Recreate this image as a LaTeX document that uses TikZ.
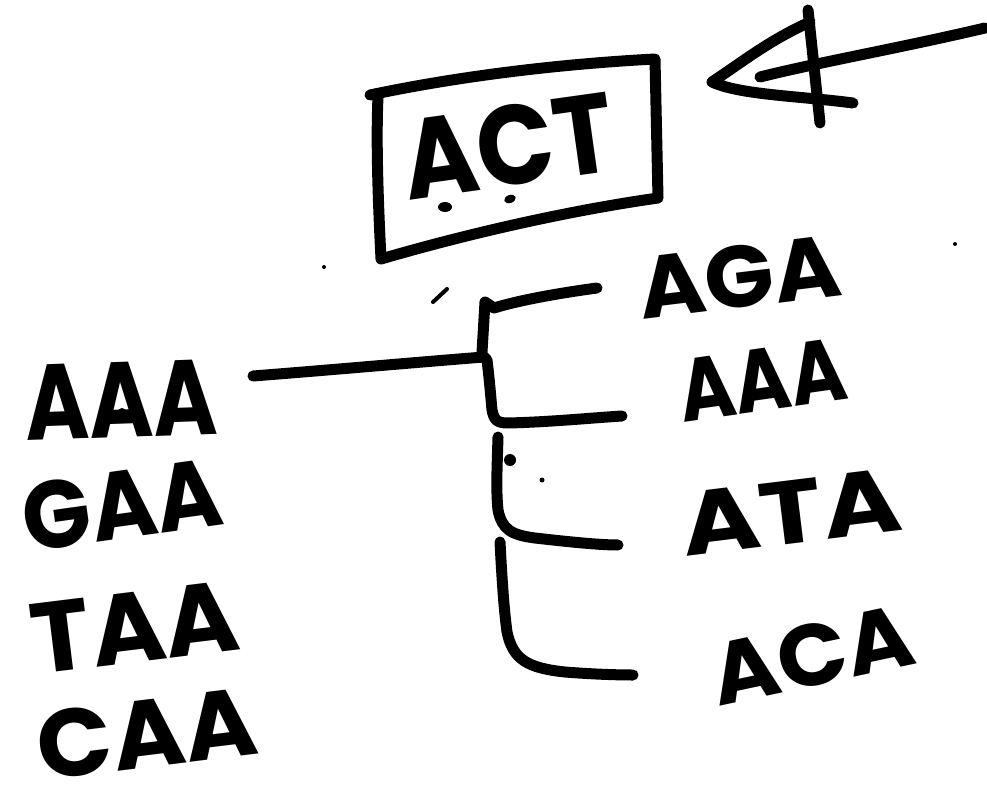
\documentclass[tikz,border=0pt]{standalone}
\usepackage{fontspec}
\newfontfamily\handfont{Poppins}
\newcommand{\hw}[3]{\resizebox{#1pt}{#2pt}{\handfont\bfseries #3}}
\tikzset{
  ink/.style={line width=11pt, line cap=round, line join=round},
  word/.style={inner sep=0pt, anchor=center},
  blob/.style={fill=black}
}
\begin{document}
\begin{tikzpicture}[x=1pt,y=-1pt]
\useasboundingbox (0,0) rectangle (987,786);
\fill[white] (0,0) rectangle (987,786);

% box around ACT
\draw[ink] (370,95) .. controls (460,76) and (560,64) .. (655,59)
  -- (658,198) .. controls (560,212) and (460,236) .. (381,259)
  .. controls (378,200) and (376,140) .. (378,97);
\node[word, rotate=8] (act) at (508,146) {\hw{212}{80}{ACT}};
\fill[blob] (445,207) ellipse (7pt and 5pt);
\fill[blob, rotate around={20:(510,199)}] (510,199) ellipse (6pt and 4pt);

% arrow
\coordinate (arrowstart) at (985,28);
\coordinate (arrowend) at (760,77);
\draw[ink] (arrowstart) .. controls (900,48) and (820,62) .. (arrowend);
\draw[ink] (810,22) .. controls (770,40) and (745,60) .. (712,82)
  .. controls (740,95) and (800,96) .. (853,103);
\draw[ink] (808,10) -- (820,123);

% left words
\node[word, rotate=2] (l1) at (121,400) {\hw{192}{75}{AAA}};
\node[word, rotate=8] (l2) at (122,505) {\hw{200}{68}{GAA}};
\node[word, rotate=7] (l3) at (135,627) {\hw{208}{70}{TAA}};
\node[word, rotate=7] (l4) at (147,734) {\hw{220}{68}{CAA}};
\fill[blob] (122,412) circle (4pt);

% right words
\node[word, rotate=7] (r1) at (739,277) {\hw{203}{62}{AGA}};
\node[word, rotate=8] (r2) at (762,380) {\hw{168}{62}{AAA}};
\node[word, rotate=7] (r3) at (791,512) {\hw{220}{63}{ATA}};
\node[word, rotate=12] (r4) at (812,655) {\hw{205}{62}{ACA}};

% tree connectors
\coordinate (j0) at (253,376);
\coordinate (j1) at (484,357);
\coordinate (b1) at (597,288);
\coordinate (b2) at (622,416);
\coordinate (b3) at (618,545);
\coordinate (b4) at (633,675);
\draw[ink] (j0) .. controls (330,370) and (420,362) .. (j1);
\draw[ink] (b1) .. controls (560,293) and (520,300) .. (494,308) -- (485,302) -- (482,352);
\draw[ink] (j1) -- (487,360) .. controls (490,385) and (491,400) .. (492,410)
  .. controls (494,420) and (497,423) .. (508,423) .. controls (550,422) and (590,418) .. (b2);
\draw[ink] (498,437) .. controls (497,470) and (496,490) .. (498,510)
  .. controls (502,530) and (512,535) .. (535,538) .. controls (570,542) and (600,545) .. (b3);
\draw[ink] (500,542) .. controls (502,580) and (504,610) .. (507,632)
  .. controls (513,660) and (528,668) .. (565,672) .. controls (590,674) and (615,675) .. (b4);
\fill[blob] (510,460) circle (6pt);
\fill[blob] (542,480) circle (2.5pt);
\draw[line width=4pt, line cap=round] (433,302) -- (447,289);
\fill[blob] (324,267) circle (2pt);
\fill[blob] (955,244) circle (2pt);
\end{tikzpicture}
\end{document}
